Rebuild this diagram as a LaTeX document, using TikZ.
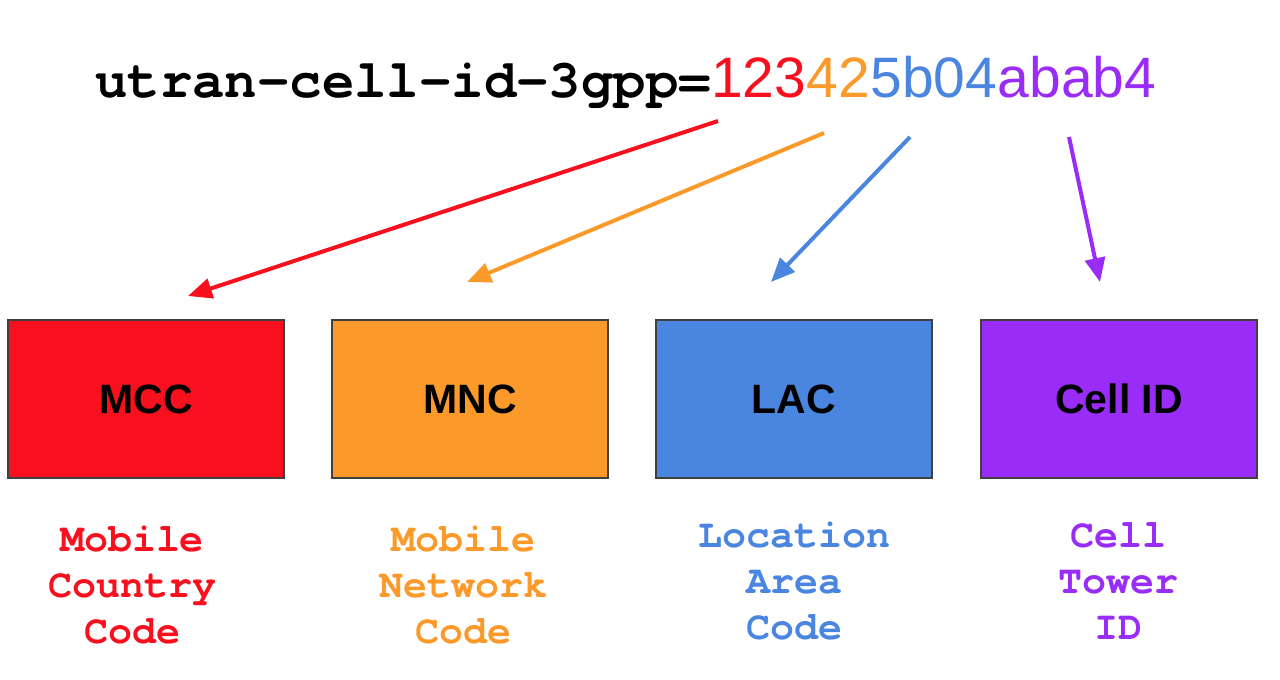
\documentclass[tikz,border=0pt]{standalone}
\usepackage{fontspec}
\setmainfont{Liberation Sans}
\newfontfamily\codefont{TeX Gyre Cursor}
\usetikzlibrary{arrows.meta}

\definecolor{mccred}{HTML}{F8101E}
\definecolor{mncorange}{HTML}{FB9A2A}
\definecolor{lacblue}{HTML}{4A86E0}
\definecolor{cidpurple}{HTML}{9A2CF8}

\tikzset{
  field/.style={draw=black!75, line width=1.5pt, minimum width=276pt, minimum height=158pt,
    inner sep=0pt, font=\fontsize{41}{41}\selectfont\bfseries},
  digits/.style={inner sep=0pt, anchor=base west, font=\fontsize{57}{57}\selectfont},
  meaning/.style={align=center, inner sep=0pt, font=\fontsize{40}{46}\codefont\bfseries},
  pointer/.style={line width=4pt, -{Triangle[length=24pt,width=20pt]}}
}

\begin{document}
\begin{tikzpicture}[x=1pt,y=-1pt]
\useasboundingbox (0,0) rectangle (1280,680);

\node[inner sep=0pt, anchor=base west, font=\fontsize{54}{54}\codefont\bfseries] (prefix) at (95,97) {utran-cell-id-3gpp=};
\node[digits, text=mccred] (mccnum) at (prefix.base east) {123};
\node[digits, text=mncorange] (mncnum) at (mccnum.base east) {42};
\node[digits, text=lacblue] (lacnum) at (mncnum.base east) {5b04};
\node[digits, text=cidpurple] (cidnum) at (lacnum.base east) {abab4};

\node[field, fill=mccred] (mcc) at (146,399) {MCC};
\node[field, fill=mncorange] (mnc) at (470,399) {MNC};
\node[field, fill=lacblue] (lac) at (794,399) {LAC};
\node[field, fill=cidpurple] (cid) at (1119,399) {Cell ID};

\node[meaning, text=mccred] (mccname) at (132,585) {Mobile\\Country\\Code};
\node[meaning, text=mncorange] (mncname) at (463,585) {Mobile\\Network\\Code};
\node[meaning, text=lacblue] (lacname) at (794,581) {Location\\Area\\Code};
\node[meaning, text=cidpurple] (cidname) at (1118,581) {Cell\\Tower\\ID};

\coordinate (mcctail) at (718,121);
\coordinate (mcctip) at (188,296);
\coordinate (mnctail) at (824,133);
\coordinate (mnctip) at (467,282);
\coordinate (lactail) at (910,137);
\coordinate (lactip) at (771,282);
\coordinate (cidtail) at (1069,137);
\coordinate (cidtip) at (1100,282);

\draw[pointer, mccred] (mcctail) -- (mcctip);
\draw[pointer, mncorange] (mnctail) -- (mnctip);
\draw[pointer, lacblue] (lactail) -- (lactip);
\draw[pointer, cidpurple] (cidtail) -- (cidtip);
\end{tikzpicture}
\end{document}
